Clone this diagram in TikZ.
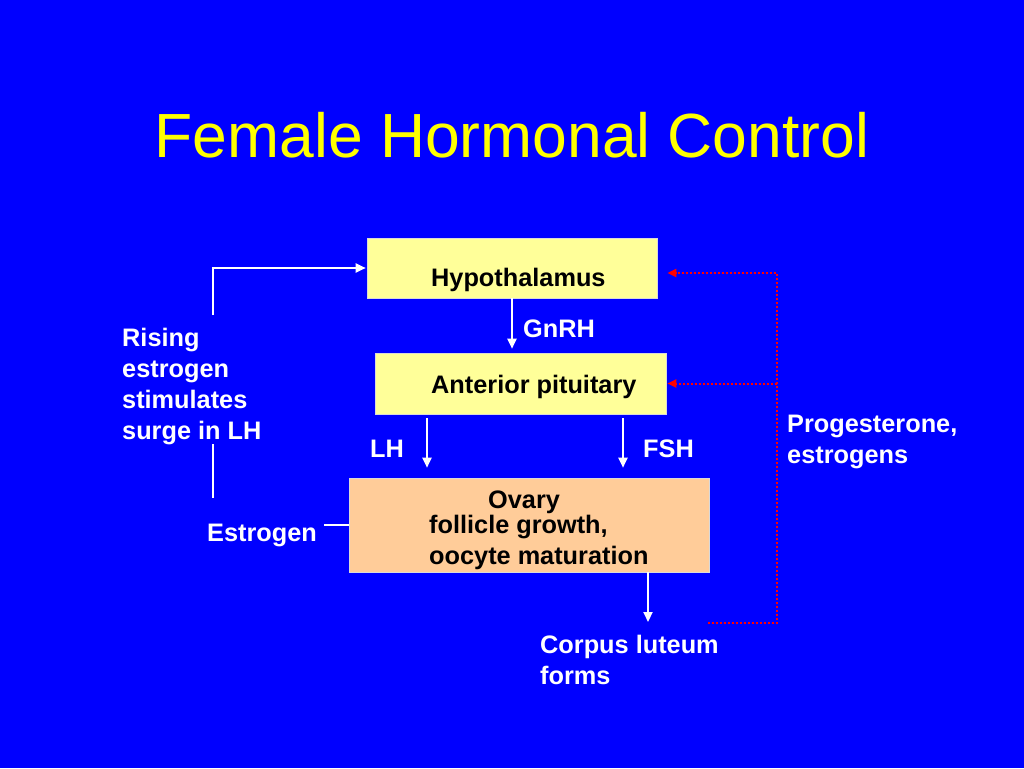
\documentclass[tikz,border=0pt]{standalone}
\usepackage{fontspec}
\setmainfont{Liberation Sans}
\usetikzlibrary{arrows.meta}
\definecolor{bgblue}{HTML}{0000FF}
\definecolor{boxyellow}{HTML}{FFFF99}
\definecolor{boxpeach}{HTML}{FFCC99}
\definecolor{titleyellow}{HTML}{FFFF00}
\begin{document}
\begin{tikzpicture}[x=1pt,y=-1pt,
  box/.style={draw=white!85!black,line width=0.6pt,inner sep=0pt},
  body/.style={font=\fontsize{25.3}{30.7}\selectfont\bfseries,inner sep=0pt,anchor=base west},
  wtxt/.style={body,text=white},
  btxt/.style={body,text=black},
  wline/.style={draw=white,line width=2pt},
  warr/.style={wline,-{Triangle[width=9pt,length=10pt]}},
  rdot/.style={draw=red,line width=2pt,dash pattern=on 2pt off 2pt},
  rarr/.style={rdot,-{Triangle[width=8pt,length=9pt]}}]
\fill[bgblue] (0,0) rectangle (1024,768);
\useasboundingbox (0,0) rectangle (1024,768);
% title
\node[font=\fontsize{62.4}{75}\selectfont,text=titleyellow,inner sep=0pt,anchor=base] (title) at (512,157) {Female Hormonal Control};
% boxes
\node[box,fill=boxyellow,minimum width=290pt,minimum height=60pt] (hyp) at (512,268) {};
\node[box,fill=boxyellow,minimum width=291pt,minimum height=61pt] (pit) at (520.5,383.5) {};
\node[box,fill=boxpeach,minimum width=360pt,minimum height=94pt] (ovary) at (529,525) {};
% box texts
\node[btxt] (thyp) at (431,286) {Hypothalamus};
\node[btxt] (tpit) at (431,393) {Anterior pituitary};
\node[btxt] (tov1) at (488,508) {Ovary};
\node[btxt] (tov2) at (429,533) {follicle growth,};
\node[btxt] (tov3) at (429,564) {oocyte maturation};
% labels
\node[wtxt] (gnrh) at (523,337) {GnRH};
\node[wtxt] (lh) at (370,457) {LH};
\node[wtxt] (fsh) at (643,457) {FSH};
\node[wtxt] (ris1) at (122,346) {Rising};
\node[wtxt] (ris2) at (122,377) {estrogen};
\node[wtxt] (ris3) at (122,408) {stimulates};
\node[wtxt] (ris4) at (122,439) {surge in LH};
\node[wtxt] (estr) at (207,541) {Estrogen};
\node[wtxt] (prog1) at (787,432) {Progesterone,};
\node[wtxt] (prog2) at (787,463) {estrogens};
\node[wtxt] (corp1) at (540,653) {Corpus luteum};
\node[wtxt] (corp2) at (540,684) {forms};
% coordinates
\coordinate (lhtop) at (427,418);
\coordinate (fshtop) at (623,418);
\coordinate (cltip) at (648,622);
\coordinate (lvtop) at (213,315);
\coordinate (lvlo1) at (213,444);
\coordinate (lvlo2) at (213,498);
\coordinate (estl) at (324,525);
\coordinate (rstart) at (708,623);
\coordinate (rcorner) at (777,623);
% white connectors
\draw[warr,shorten >=4pt] (hyp.south) -- (pit.north -| hyp.south);
\draw[warr,shorten >=10pt] (lhtop) -- (lhtop |- ovary.north);
\draw[warr,shorten >=10pt] (fshtop) -- (fshtop |- ovary.north);
\draw[warr] (ovary.south -| cltip) -- (cltip);
\draw[warr,shorten >=1pt] (lvtop) |- (hyp.west);
\draw[wline] (lvlo1) -- (lvlo2);
\draw[wline] (estl) -- (ovary.west);
% red feedback
\draw[rarr,shorten >=10pt] (rstart) -- (rcorner) |- ([yshift=-5pt]hyp.east);
\draw[rarr,shorten >=1pt] (rcorner |- pit.east) -- (pit.east);
\end{tikzpicture}
\end{document}
